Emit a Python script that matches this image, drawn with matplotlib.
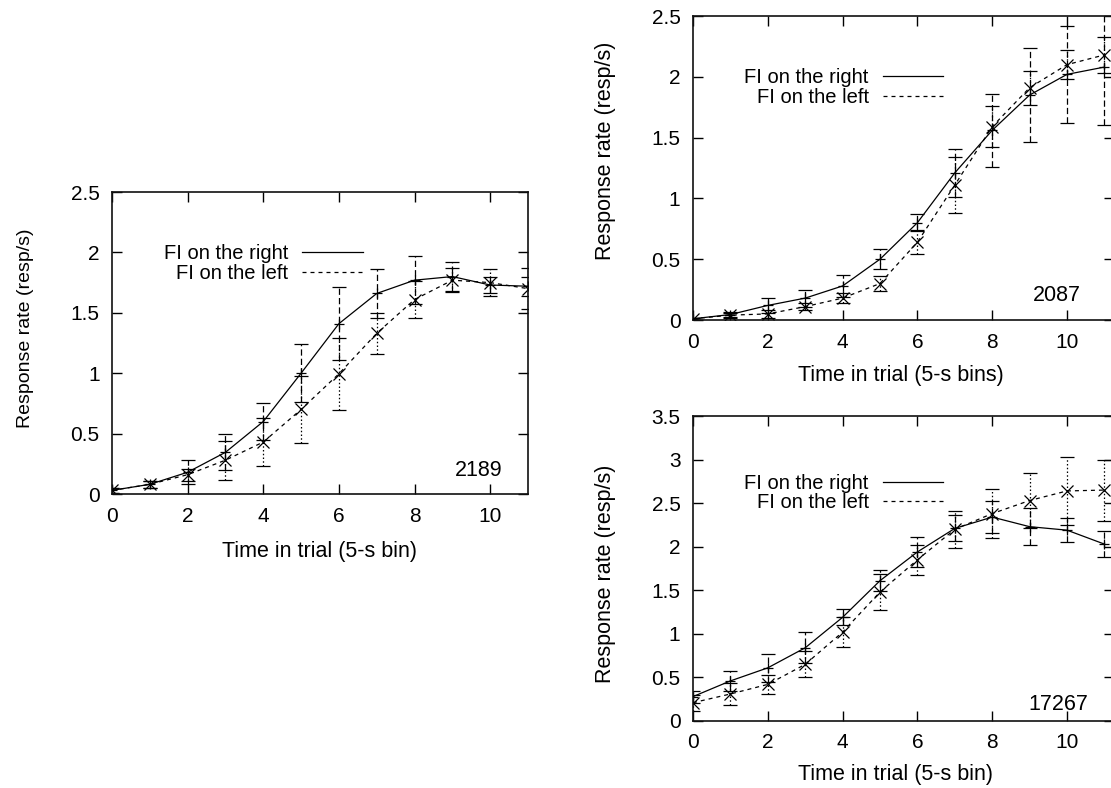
import matplotlib
matplotlib.use("Agg")
import matplotlib.pyplot as plt
from matplotlib.ticker import FormatStrFormatter, MultipleLocator

plt.rcParams['font.family'] = ['Liberation Sans', 'DejaVu Sans']

# ---------------- data ----------------
bins = [0, 1, 2, 3, 4, 5, 6, 7, 8, 9, 10, 11]

# subject 2189 (left panel)
s2189_right = [0.03, 0.08, 0.18, 0.345, 0.60, 1.00, 1.41, 1.66, 1.77, 1.80, 1.73, 1.72]
s2189_right_err = [0.02, 0.03, 0.10, 0.15, 0.15, 0.24, 0.30, 0.20, 0.20, 0.12, 0.07, 0.08]
s2189_left = [0.03, 0.08, 0.16, 0.28, 0.43, 0.70, 0.995, 1.33, 1.61, 1.77, 1.75, 1.70]
s2189_left_err = [0.02, 0.03, 0.05, 0.16, 0.20, 0.28, 0.30, 0.17, 0.15, 0.10, 0.11, 0.17]

# subject 2087 (top right)
s2087_right = [0.01, 0.045, 0.12, 0.18, 0.28, 0.50, 0.80, 1.21, 1.56, 1.85, 2.02, 2.08]
s2087_right_err = [0.01, 0.02, 0.06, 0.07, 0.09, 0.08, 0.07, 0.20, 0.30, 0.39, 0.40, 0.48]
s2087_left = [0.01, 0.04, 0.05, 0.11, 0.18, 0.30, 0.64, 1.11, 1.59, 1.91, 2.10, 2.18]
s2087_left_err = [0.01, 0.02, 0.03, 0.03, 0.04, 0.06, 0.10, 0.23, 0.17, 0.14, 0.12, 0.15]

# subject 17267 (bottom right)
s17267_right = [0.28, 0.46, 0.61, 0.84, 1.19, 1.61, 1.94, 2.21, 2.34, 2.23, 2.19, 2.03]
s17267_right_err = [0.07, 0.11, 0.16, 0.18, 0.09, 0.12, 0.17, 0.15, 0.18, 0.21, 0.14, 0.15]
s17267_left = [0.21, 0.31, 0.42, 0.65, 1.02, 1.48, 1.85, 2.20, 2.38, 2.53, 2.64, 2.65]
s17267_left_err = [0.09, 0.13, 0.11, 0.15, 0.17, 0.21, 0.17, 0.21, 0.28, 0.32, 0.39, 0.35]

label_right = "FI on the right"
label_left = "FI on the left"
ylabel = "Response rate (resp/s)"

W, H = 1111, 788
fig = plt.figure(figsize=(W / 100, H / 100), dpi=100)
fig.patch.set_facecolor('white')


def px_axes(x0, x1, ytop, ybot):
    return fig.add_axes([x0 / W, (H - ybot) / H, (x1 - x0) / W, (ybot - ytop) / H])


DASH_LINE = (0, (3.2, 3.2))


def panel(ax, xmax, ymax, rv, re, lv, le, xlabel, subject, ylab_fs,
          ylab_xy, xlab_xy, leg_xy, subj_xy, tick_fs=15):
    ax.plot(bins, rv, '-', color='black', lw=0.9, label=label_right, zorder=3)
    ax.plot(bins, lv, linestyle=DASH_LINE, color='black', lw=0.9,
            label=label_left, zorder=3)
    eb_r = ax.errorbar(bins, rv, yerr=re, fmt='+', color='black', ms=7,
                       mew=0.9, elinewidth=0.9, capsize=5, capthick=0.9,
                       zorder=2)
    eb_r[2][0].set_linestyle((0, (5, 2.5)))
    eb_l = ax.errorbar(bins, lv, yerr=le, fmt='x', color='black', ms=9,
                       mew=0.9, elinewidth=0.9, capsize=5, capthick=0.8,
                       zorder=2)
    eb_l[2][0].set_linestyle((0, (1.2, 1.8)))
    ax.set_xlim(0, xmax)
    ax.set_ylim(0, ymax)
    ax.xaxis.set_major_locator(MultipleLocator(2))
    ax.yaxis.set_major_locator(MultipleLocator(0.5))
    ax.yaxis.set_major_formatter(FormatStrFormatter('%g'))
    ax.tick_params(direction='in', length=7, width=1.0, top=True, right=True,
                   labelsize=tick_fs, color='black')
    ax.tick_params(axis='x', pad=9)
    ax.tick_params(axis='y', pad=9)
    for s in ax.spines.values():
        s.set_linewidth(1.2)
        s.set_color('#111111')
    ax.set_ylabel(ylabel, fontsize=ylab_fs, va='center', ha='center')
    ax.yaxis.set_label_coords(*ylab_xy)
    ax.set_xlabel(xlabel, fontsize=15.5, va='center', ha='center')
    ax.xaxis.set_label_coords(*xlab_xy)
    ax.legend(loc='center right', bbox_to_anchor=leg_xy, frameon=False,
              markerfirst=False, fontsize=14.5, handlelength=3.0,
              handletextpad=0.7, labelspacing=0.02, borderpad=0,
              borderaxespad=0)
    ax.text(subj_xy[0], subj_xy[1], subject, transform=ax.transAxes,
            ha='right', va='center', fontsize=15.5)


ax1 = px_axes(112, 528, 192, 494)
panel(ax1, 11, 2.5, s2189_right, s2189_right_err, s2189_left, s2189_left_err,
      "Time in trial (5-s bin)", "2189", 14,
      (-0.209, 0.548), (0.498, -0.189), (0.603, 0.763), (0.9375, 0.079))

ax2 = px_axes(693, 1113.75, 16, 320)
panel(ax2, 11.25, 2.5, s2087_right, s2087_right_err, s2087_left, s2087_left_err,
      "Time in trial (5-s bins)", "2087", 15.5,
      (-0.207, 0.556), (0.493, -0.181), (0.595, 0.765), (0.921, 0.08))

ax3 = px_axes(693, 1113.75, 416, 721)
panel(ax3, 11.25, 3.5, s17267_right, s17267_right_err, s17267_left, s17267_left_err,
      "Time in trial (5-s bin)", "17267", 15.5,
      (-0.207, 0.484), (0.481, -0.177), (0.595, 0.748), (0.940, 0.054))

fig.savefig("out.png", dpi=100)
